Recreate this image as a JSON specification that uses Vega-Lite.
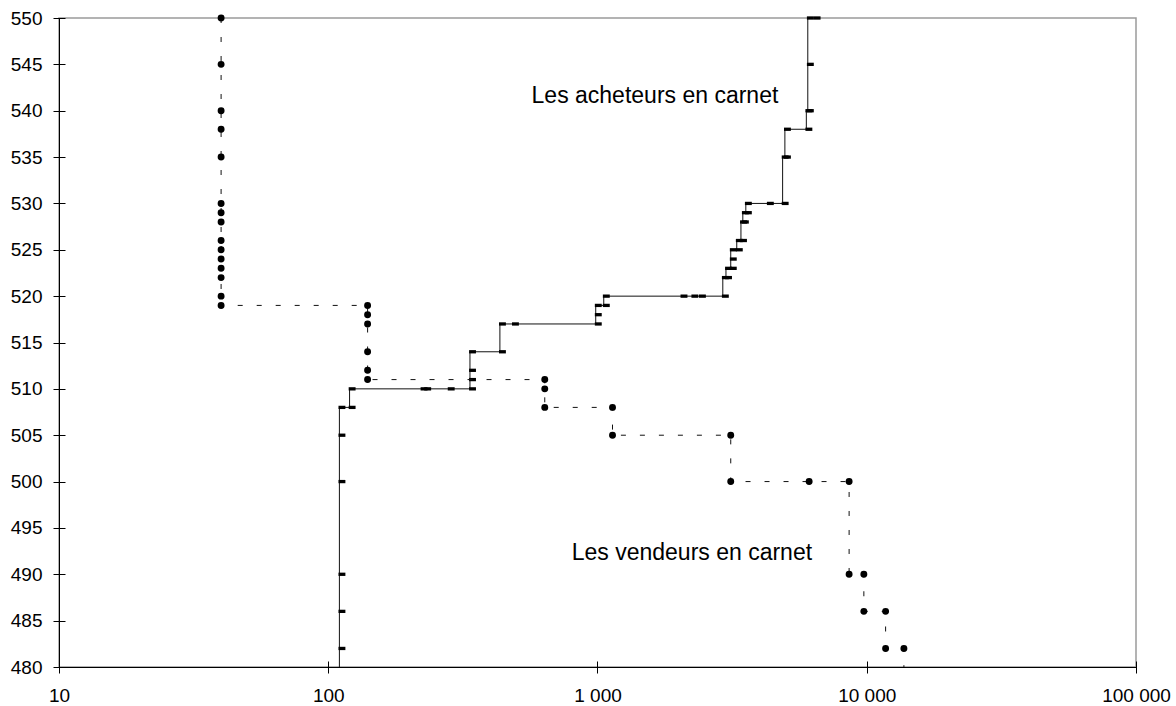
{
  "$schema": "https://vega.github.io/schema/vega-lite/v6.json",
  "autosize": {"type": "none"},
  "width": 1077,
  "height": 649,
  "padding": {"left": 59, "top": 18, "right": 40, "bottom": 39},
  "background": "white",
  "config": {
    "font": "Liberation Sans",
    "view": {"stroke": "#9a9a9a", "strokeWidth": 1.5},
    "axis": {"grid": false, "title": null, "labelColor": "black", "tickColor": "black", "domainColor": "black"}
  },
  "data": {
    "values": [
      {"s": "A", "p": 480, "q": 110, "m": 0},
      {"s": "A", "p": 482, "q": 110, "m": 1},
      {"s": "A", "p": 486, "q": 110, "m": 1},
      {"s": "A", "p": 490, "q": 110, "m": 1},
      {"s": "A", "p": 500, "q": 110, "m": 1},
      {"s": "A", "p": 505, "q": 110, "m": 1},
      {"s": "A", "p": 508, "q": 110, "m": 1},
      {"s": "A", "p": 508, "q": 120, "m": 1},
      {"s": "A", "p": 510, "q": 120, "m": 1},
      {"s": "A", "p": 510, "q": 222, "m": 1},
      {"s": "A", "p": 510, "q": 229, "m": 1},
      {"s": "A", "p": 510, "q": 280, "m": 1},
      {"s": "A", "p": 510, "q": 336, "m": 1},
      {"s": "A", "p": 511, "q": 336, "m": 1},
      {"s": "A", "p": 512, "q": 336, "m": 1},
      {"s": "A", "p": 514, "q": 336, "m": 1},
      {"s": "A", "p": 514, "q": 434, "m": 1},
      {"s": "A", "p": 517, "q": 434, "m": 1},
      {"s": "A", "p": 517, "q": 485, "m": 1},
      {"s": "A", "p": 517, "q": 985, "m": 1},
      {"s": "A", "p": 518, "q": 985, "m": 1},
      {"s": "A", "p": 519, "q": 985, "m": 1},
      {"s": "A", "p": 519, "q": 1055, "m": 1},
      {"s": "A", "p": 520, "q": 1055, "m": 1},
      {"s": "A", "p": 520, "q": 2050, "m": 1},
      {"s": "A", "p": 520, "q": 2250, "m": 1},
      {"s": "A", "p": 520, "q": 2400, "m": 1},
      {"s": "A", "p": 520, "q": 2920, "m": 1},
      {"s": "A", "p": 522, "q": 2920, "m": 1},
      {"s": "A", "p": 522, "q": 3000, "m": 1},
      {"s": "A", "p": 523, "q": 3000, "m": 1},
      {"s": "A", "p": 523, "q": 3125, "m": 1},
      {"s": "A", "p": 524, "q": 3125, "m": 1},
      {"s": "A", "p": 525, "q": 3125, "m": 1},
      {"s": "A", "p": 525, "q": 3290, "m": 1},
      {"s": "A", "p": 526, "q": 3290, "m": 1},
      {"s": "A", "p": 526, "q": 3410, "m": 1},
      {"s": "A", "p": 528, "q": 3410, "m": 1},
      {"s": "A", "p": 528, "q": 3465, "m": 1},
      {"s": "A", "p": 529, "q": 3465, "m": 1},
      {"s": "A", "p": 529, "q": 3555, "m": 1},
      {"s": "A", "p": 530, "q": 3555, "m": 1},
      {"s": "A", "p": 530, "q": 4290, "m": 1},
      {"s": "A", "p": 530, "q": 4870, "m": 1},
      {"s": "A", "p": 535, "q": 4870, "m": 1},
      {"s": "A", "p": 535, "q": 4965, "m": 1},
      {"s": "A", "p": 538, "q": 4965, "m": 1},
      {"s": "A", "p": 538, "q": 5965, "m": 1},
      {"s": "A", "p": 540, "q": 5965, "m": 1},
      {"s": "A", "p": 540, "q": 6040, "m": 1},
      {"s": "A", "p": 545, "q": 6040, "m": 1},
      {"s": "A", "p": 550, "q": 6040, "m": 1},
      {"s": "A", "p": 550, "q": 6400, "m": 1},
      {"s": "V", "p": 550, "q": 40, "m": 1},
      {"s": "V", "p": 545, "q": 40, "m": 1},
      {"s": "V", "p": 540, "q": 40, "m": 1},
      {"s": "V", "p": 538, "q": 40, "m": 1},
      {"s": "V", "p": 535, "q": 40, "m": 1},
      {"s": "V", "p": 530, "q": 40, "m": 1},
      {"s": "V", "p": 529, "q": 40, "m": 1},
      {"s": "V", "p": 528, "q": 40, "m": 1},
      {"s": "V", "p": 526, "q": 40, "m": 1},
      {"s": "V", "p": 525, "q": 40, "m": 1},
      {"s": "V", "p": 524, "q": 40, "m": 1},
      {"s": "V", "p": 523, "q": 40, "m": 1},
      {"s": "V", "p": 522, "q": 40, "m": 1},
      {"s": "V", "p": 520, "q": 40, "m": 1},
      {"s": "V", "p": 519, "q": 40, "m": 1},
      {"s": "V", "p": 519, "q": 140, "m": 1},
      {"s": "V", "p": 518, "q": 140, "m": 1},
      {"s": "V", "p": 517, "q": 140, "m": 1},
      {"s": "V", "p": 514, "q": 140, "m": 1},
      {"s": "V", "p": 512, "q": 140, "m": 1},
      {"s": "V", "p": 511, "q": 140, "m": 1},
      {"s": "V", "p": 511, "q": 637, "m": 1},
      {"s": "V", "p": 510, "q": 637, "m": 1},
      {"s": "V", "p": 508, "q": 637, "m": 1},
      {"s": "V", "p": 508, "q": 1137, "m": 1},
      {"s": "V", "p": 505, "q": 1137, "m": 1},
      {"s": "V", "p": 505, "q": 3125, "m": 1},
      {"s": "V", "p": 500, "q": 3125, "m": 1},
      {"s": "V", "p": 500, "q": 6110, "m": 1},
      {"s": "V", "p": 500, "q": 8600, "m": 1},
      {"s": "V", "p": 490, "q": 8600, "m": 1},
      {"s": "V", "p": 490, "q": 9755, "m": 1},
      {"s": "V", "p": 486, "q": 9755, "m": 1},
      {"s": "V", "p": 486, "q": 11750, "m": 1},
      {"s": "V", "p": 482, "q": 11750, "m": 1},
      {"s": "V", "p": 482, "q": 13740, "m": 1},
      {"s": "V", "p": 480, "q": 13740, "m": 0}
    ]
  },
  "resolve": {"axis": {"x": "independent", "y": "independent"}},
  "layer": [
    {
      "transform": [{"filter": "datum.s == 'A'"}],
      "mark": {"type": "line", "color": "#111", "strokeWidth": 1},
      "encoding": {
        "x": {"field": "q", "type": "quantitative",
              "scale": {"type": "log", "domain": [10, 100000], "nice": false},
              "axis": {"orient": "bottom", "offset": -6, "tickSize": 12, "domain": false,
                       "values": [10, 100, 1000, 10000, 100000],
                       "labelExpr": "replace(format(datum.value, ','), ',', ' ')",
                       "labelFontSize": 19, "labelPadding": 13, "labelFlush": false, "labelOverlap": false}},
        "y": {"field": "p", "type": "quantitative",
              "scale": {"domain": [480, 550], "nice": false, "zero": false},
              "axis": {"orient": "left", "offset": -6, "tickSize": 12, "domain": false,
                       "values": [480, 485, 490, 495, 500, 505, 510, 515, 520, 525, 530, 535, 540, 545, 550],
                       "format": "d", "labelFontSize": 19, "labelPadding": 11, "labelFlush": false, "labelOverlap": false}},
        "order": {"value": null}
      }
    },
    {
      "transform": [{"filter": "datum.s == 'A' && datum.m == 1"}],
      "mark": {"type": "point", "filled": true, "color": "black", "opacity": 1,
               "shape": "M-0.3,-0.55L2,-0.55L2,0.55L-0.3,0.55Z", "size": 36, "strokeWidth": 0},
      "encoding": {
        "x": {"field": "q", "type": "quantitative",
              "axis": {"orient": "bottom", "domain": true, "ticks": false, "labels": false, "domainWidth": 1}},
        "y": {"field": "p", "type": "quantitative",
              "axis": {"orient": "left", "domain": true, "ticks": false, "labels": false, "domainWidth": 1}}
      }
    },
    {
      "transform": [{"filter": "datum.s == 'V'"}],
      "mark": {"type": "line", "color": "#111", "strokeWidth": 1, "strokeDash": [5, 14]},
      "encoding": {
        "x": {"field": "q", "type": "quantitative", "axis": null},
        "y": {"field": "p", "type": "quantitative", "axis": null},
        "order": {"value": null}
      }
    },
    {
      "transform": [{"filter": "datum.s == 'V' && datum.m == 1"}],
      "mark": {"type": "circle", "color": "black", "opacity": 1, "size": 48},
      "encoding": {
        "x": {"field": "q", "type": "quantitative", "axis": null},
        "y": {"field": "p", "type": "quantitative", "axis": null}
      }
    },
    {
      "data": {"values": [
        {"t": "Les acheteurs en carnet", "q": 569, "p": 540.84},
        {"t": "Les vendeurs en carnet", "q": 802, "p": 491.5}
      ]},
      "mark": {"type": "text", "align": "left", "baseline": "alphabetic", "fontSize": 23, "color": "black"},
      "encoding": {
        "x": {"field": "q", "type": "quantitative", "axis": null},
        "y": {"field": "p", "type": "quantitative", "axis": null},
        "text": {"field": "t"}
      }
    }
  ]
}
